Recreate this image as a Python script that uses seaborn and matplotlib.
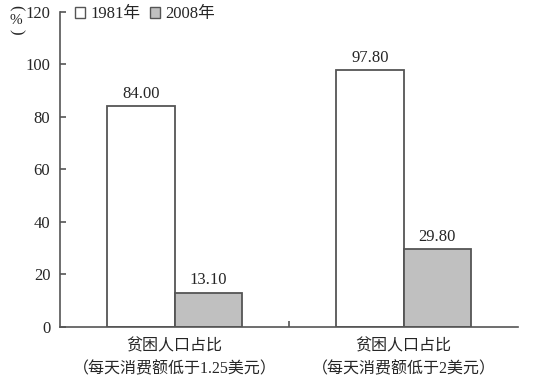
import matplotlib

matplotlib.use("Agg")
import matplotlib.pyplot as plt
import pandas as pd
import seaborn as sns
from matplotlib.patches import Patch

categories = ["贫困人口占比\n（每天消费额低于1.25美元）", "贫困人口占比\n（每天消费额低于2美元）"]
years = ["1981年", "2008年"]
values_1981 = [84.00, 97.80]
values_2008 = [13.10, 29.80]
yticks = [0, 20, 40, 60, 80, 100, 120]

df = pd.DataFrame({
    "cat": categories * 2,
    "year": [years[0]] * 2 + [years[1]] * 2,
    "val": values_1981 + values_2008,
})

sns.set_style("white")
plt.rcParams["font.family"] = ["Liberation Serif", "Noto Sans CJK SC", "DejaVu Sans"]
plt.rcParams["font.size"] = 12

edge = "#555555"
palette = {years[0]: "white", years[1]: "#c0c0c0"}

fig = plt.figure(figsize=(5.33, 3.82), dpi=100)
ax = fig.add_axes([0.1126, 0.144, 0.8594, 0.825])

sns.barplot(data=df, x="cat", y="val", hue="year", palette=palette,
            width=0.59, edgecolor=edge, linewidth=1.3, ax=ax, legend=False)

for cont in ax.containers:
    ax.bar_label(cont, fmt="%.2f", padding=3, fontsize=12)

ax.set_xlim(-0.5, 1.5)
ax.set_ylim(0, 120)
ax.set_yticks(yticks)
ax.set_xlabel("")
ax.set_ylabel("")
for s in ["top", "right"]:
    ax.spines[s].set_visible(False)
for s in ["left", "bottom"]:
    ax.spines[s].set_color(edge)
    ax.spines[s].set_linewidth(1.2)

ax.tick_params(axis="y", direction="in", length=4, width=1.2, color=edge,
               left=True, labelsize=12, pad=7)
ax.tick_params(axis="x", which="major", length=0, labelsize=11.5, pad=8)
ax.set_xticks([0.5], minor=True)
ax.tick_params(axis="x", which="minor", direction="in", length=4, width=1.2,
               color=edge, bottom=True)
for lbl in ax.get_xticklabels():
    lbl.set_linespacing(1.6)

# unit label: % between vertical brackets
fig.text(0.030, 1 - 8 / 382, "(", rotation=-90, ha="center", va="center", fontsize=12)
fig.text(0.030, 1 - 20 / 382, "%", ha="center", va="center", fontsize=11)
fig.text(0.030, 1 - 32 / 382, ")", rotation=-90, ha="center", va="center", fontsize=12)

handles = [Patch(facecolor=palette[y], edgecolor=edge, linewidth=1.0) for y in years]
ax.legend(handles, years, loc="upper left", bbox_to_anchor=(0.0, 1.065),
          ncol=2, frameon=False, handlelength=0.6, handleheight=0.6,
          handletextpad=0.3, columnspacing=0.6, fontsize=12)

fig.savefig("out.png", dpi=100)
